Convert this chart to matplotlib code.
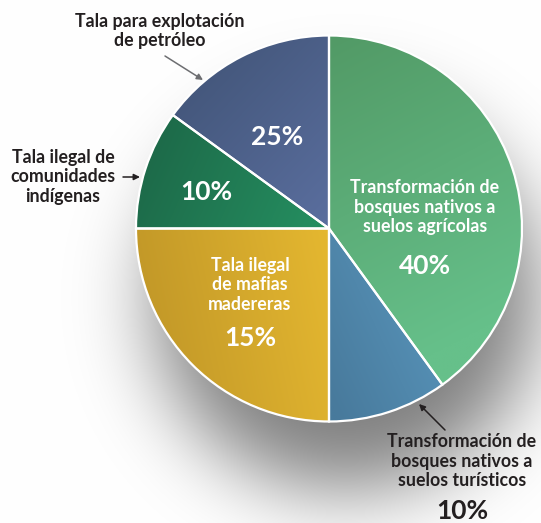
import numpy as np
import matplotlib
matplotlib.use("Agg")
import matplotlib.pyplot as plt
from matplotlib.colors import to_rgb
from math import erf

# ---------------- data ----------------
categories = [
    "Transformación de\nbosques nativos a\nsuelos agrícolas",
    "Transformación de\nbosques nativos a\nsuelos turísticos",
    "Tala ilegal\nde mafias\nmadereras",
    "Tala ilegal de\ncomunidades\nindígenas",
    "Tala para explotación\nde petróleo",
]
# slice sizes as drawn in the picture
values = [40, 10, 25, 10, 15]
# percentage labels as printed in the picture
pct_labels = ["40%", "10%", "15%", "10%", "25%"]

# gradient colours per slice (start, end)
grad_start = ["#529a66", "#5894ba", "#c29828", "#1d6a49", "#43567a"]
grad_end = ["#66c08a", "#487a9c", "#e4b730", "#258e60", "#5a6e9e"]

W, H = 541, 523
fig = plt.figure(figsize=(W / 100, H / 100), dpi=100)
ax = fig.add_axes([0, 0, 1, 1])

cx, cy_img, R = 329, 228.5, 193
cy = H - cy_img

def Y(y):
    return H - y

# ---------------- shadow background ----------------
yy, xx = np.mgrid[0:H, 0:W]
sx, sy = 345, 298  # image coords
d = np.sqrt((xx - sx) ** 2 + (yy - sy) ** 2)
s = 40.0
verf = np.vectorize(erf)
shade = 0.5 * (1 - verf((d - 188) / (np.sqrt(2) * s)))
dark = 0.5 * shade
bg = np.ones((H, W, 3)) * (1 - dark)[..., None]
ax.imshow(bg, extent=(0, W, 0, H), origin="upper", zorder=0, interpolation="bilinear")

# ---------------- pie ----------------
wedges, _ = ax.pie(values, colors=grad_start, startangle=90, counterclock=False,
                   center=(cx, cy), radius=R, frame=True,
                   wedgeprops=dict(edgecolor="none", linewidth=0, zorder=1))

directions = [((330, 40), (480, 330)),
              ((470, 360), (340, 420)),
              ((140, 300), (330, 260)),
              ((150, 150), (320, 225)),
              ((180, 80), (330, 220))]

N = 300
gx = np.linspace(cx - R, cx + R, N)
gy_img = np.linspace(cy_img - R, cy_img + R, N)
GX, GY = np.meshgrid(gx, gy_img)
for w, c0, c1, (p0, p1) in zip(wedges, grad_start, grad_end, directions):
    v = np.array(p1, float) - np.array(p0, float)
    t = ((GX - p0[0]) * v[0] + (GY - p0[1]) * v[1]) / (v @ v)
    t = np.clip(t, 0, 1)[..., None]
    img = (1 - t) * np.array(to_rgb(c0)) + t * np.array(to_rgb(c1))
    im = ax.imshow(img, extent=(cx - R, cx + R, Y(cy_img + R), Y(cy_img - R)),
                   origin="upper", zorder=2, interpolation="bilinear")
    im.set_clip_path(w)

ax.pie(values, colors=["none"] * len(values), startangle=90, counterclock=False,
       center=(cx, cy), radius=R, frame=True,
       wedgeprops=dict(edgecolor="white", linewidth=1.6, zorder=3, facecolor="none"))

ax.set_xlim(0, W)
ax.set_ylim(0, H)
ax.set_aspect("equal")
ax.axis("off")

FONT = ["Lato", "DejaVu Sans"]
dark_txt = "#231f20"

def txt(x, y, s, size=12.8, color=dark_txt, ls=1.2):
    ax.text(x, Y(y), s, ha="center", va="center", fontsize=size, color=color,
            fontfamily=FONT, fontweight="bold", linespacing=ls, zorder=5)

# inside labels
txt(425, 207, categories[0], color="white")
txt(425, 266, pct_labels[0], size=19, color="white")
txt(250, 285, categories[2], color="white")
txt(250, 338, pct_labels[2], size=19, color="white")
txt(206, 192, pct_labels[3], size=19, color="white")
txt(277, 137, pct_labels[4], size=19, color="white")

# outside labels
txt(160, 31, categories[4])
txt(63, 177, categories[3])
txt(462, 461, categories[1])
txt(462, 511, pct_labels[1], size=19)

# arrows
def arrow(x0, y0, x1, y1, color):
    ax.annotate("", xy=(x1, Y(y1)), xytext=(x0, Y(y0)),
                arrowprops=dict(arrowstyle="-|>", color=color, lw=1.1,
                                mutation_scale=9, shrinkA=0, shrinkB=0), zorder=6)

arrow(165, 56, 203, 80, "#6d6e71")
arrow(123, 177, 140, 177, dark_txt)
arrow(445, 430, 419, 404, dark_txt)

fig.savefig("out.png", dpi=100)
